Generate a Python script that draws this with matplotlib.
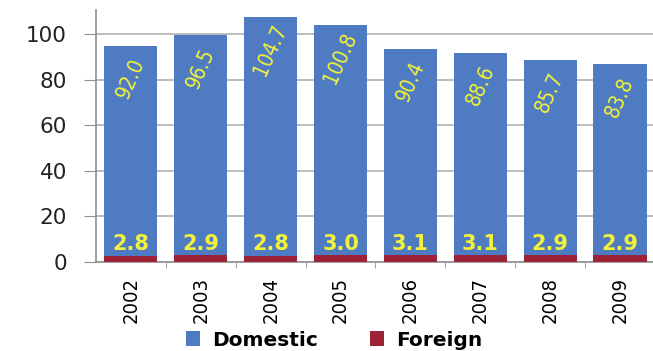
import matplotlib
matplotlib.use("Agg")
import matplotlib.pyplot as plt
import numpy as np

years = ["2002", "2003", "2004", "2005", "2006", "2007", "2008", "2009"]
domestic = [92.0, 96.5, 104.7, 100.8, 90.4, 88.6, 85.7, 83.8]
foreign = [2.8, 2.9, 2.8, 3.0, 3.1, 3.1, 2.9, 2.9]

blue = "#4F7BC3"
red = "#9B2335"
yellow = "#F2F23A"

fig = plt.figure(figsize=(6.53, 3.51), dpi=100)
ax = fig.add_axes([96/653, 89/351, 1 - 96/653 + 0.003, 252/351])

x = np.arange(len(years))
w = 0.76
ax.bar(x, foreign, width=w, color=red, label="Foreign", zorder=3)
ax.bar(x, domestic, width=w, bottom=foreign, color=blue, label="Domestic", zorder=3)

for i in range(len(years)):
    top = domestic[i] + foreign[i]
    ax.text(x[i], top - 14.5, f"{domestic[i]:.1f}", rotation=66, ha="center", va="center",
            color=yellow, fontsize=15, family="DejaVu Sans", fontstretch="condensed",
            zorder=4)
    ax.text(x[i], 7.8, f"{foreign[i]:.1f}", ha="center", va="center", color=yellow,
            fontsize=15, fontweight="bold", family="DejaVu Sans", zorder=4)

ax.set_xlim(-0.5, len(years) - 0.5)
ax.set_ylim(0, 110.5)
ax.set_yticks([0, 20, 40, 60, 80, 100])
ax.set_yticklabels(["0", "20", "40", "60", "80", "100"])
ax.yaxis.grid(True, color="#B0B0B0", linewidth=1.2, zorder=0)
ax.set_xticks(x)
ax.set_xticklabels(years, rotation=90, family="DejaVu Sans", fontstretch="condensed",
                   fontsize=14.5)
ax.tick_params(axis="x", length=0, pad=11)
ax.set_xticks(np.arange(0.5, len(years) - 0.5, 1), minor=True)
ax.tick_params(axis="x", which="minor", length=4, color="#909090", direction="out")
ax.tick_params(axis="y", length=9, color="#909090", labelsize=15.5, pad=12, labelcolor="#222222")
for s in ["top", "right"]:
    ax.spines[s].set_visible(False)
for s in ["left", "bottom"]:
    ax.spines[s].set_color("#909090")
    ax.spines[s].set_linewidth(1.2)

handles, labels = ax.get_legend_handles_labels()
leg = fig.legend([handles[1], handles[0]], [labels[1], labels[0]], loc="center",
                 bbox_to_anchor=(334/653, 1 - 340/351), ncol=2, frameon=False,
                 prop={"weight": "bold", "size": 14.5, "family": "DejaVu Sans"},
                 handlelength=0.7, handleheight=0.7, columnspacing=2.6, handletextpad=0.6)

fig.savefig("out.png", dpi=100)
